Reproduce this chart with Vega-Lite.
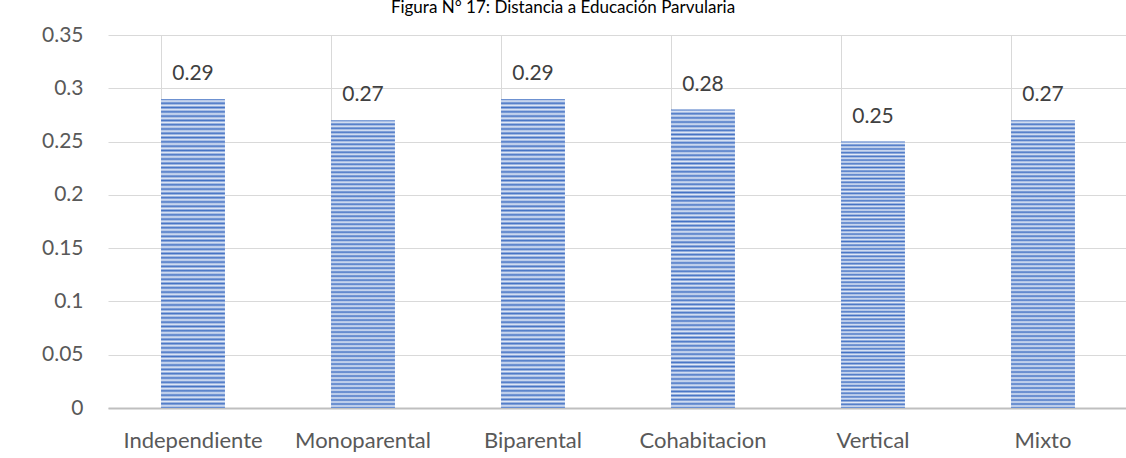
{
  "$schema": "https://vega.github.io/schema/vega-lite/v6.json",
  "autosize": "none",
  "width": 1020,
  "height": 373,
  "padding": {"left": 108, "top": 35, "right": 0, "bottom": 50},
  "background": "white",
  "title": {
    "text": "Figura N° 17: Distancia a Educación Parvularia",
    "font": "Lato",
    "fontSize": 17,
    "fontWeight": "normal",
    "color": "#000000",
    "anchor": "middle",
    "frame": "group",
    "baseline": "alphabetic",
    "offset": -6,
    "dx": -55
  },
  "data": {
    "values": [
      {"tipo": "Independiente", "valor": 0.29},
      {"tipo": "Monoparental", "valor": 0.27},
      {"tipo": "Biparental", "valor": 0.29},
      {"tipo": "Cohabitacion", "valor": 0.28},
      {"tipo": "Vertical", "valor": 0.25},
      {"tipo": "Mixto", "valor": 0.27}
    ]
  },
  "encoding": {
    "x": {
      "field": "tipo",
      "type": "nominal",
      "sort": null,
      "title": null,
      "scale": {"paddingInner": 0.624, "paddingOuter": 0.312},
      "axis": {
        "bandPosition": 0,
        "grid": true,
        "gridColor": "#D9D9D9",
        "gridWidth": 1,
        "ticks": false,
        "domainColor": "#BFBFBF",
        "domainWidth": 2,
        "labelAngle": 0,
        "labelFont": "Lato",
        "labelFontSize": 22,
        "labelColor": "#595959",
        "labelPadding": 22,
        "labelBaseline": "top"
      }
    },
    "y": {
      "field": "valor",
      "type": "quantitative",
      "title": null,
      "scale": {"domain": [0, 0.35], "nice": false},
      "axis": {
        "values": [0, 0.05, 0.1, 0.15, 0.2, 0.25, 0.3, 0.35],
        "format": "~g",
        "grid": true,
        "gridColor": "#D9D9D9",
        "gridWidth": 1,
        "ticks": false,
        "domain": false,
        "labelFont": "Lato",
        "labelFontSize": 21,
        "labelColor": "#595959",
        "labelPadding": 25
      }
    }
  },
  "layer": [
    {
      "mark": {
        "type": "bar",
        "color": {
          "gradient": "linear",
          "x1": 0, "y1": 0, "x2": 0, "y2": 1,
          "stops": [
            {"offset": 0, "color": "#4472C4"},
            {"offset": 0.00694, "color": "#E4EBF7"},
            {"offset": 0.01389, "color": "#4472C4"},
            {"offset": 0.02083, "color": "#E4EBF7"},
            {"offset": 0.02778, "color": "#4472C4"},
            {"offset": 0.03472, "color": "#E4EBF7"},
            {"offset": 0.04167, "color": "#4472C4"},
            {"offset": 0.04861, "color": "#E4EBF7"},
            {"offset": 0.05556, "color": "#4472C4"},
            {"offset": 0.0625, "color": "#E4EBF7"},
            {"offset": 0.06944, "color": "#4472C4"},
            {"offset": 0.07639, "color": "#E4EBF7"},
            {"offset": 0.08333, "color": "#4472C4"},
            {"offset": 0.09028, "color": "#E4EBF7"},
            {"offset": 0.09722, "color": "#4472C4"},
            {"offset": 0.10417, "color": "#E4EBF7"},
            {"offset": 0.11111, "color": "#4472C4"},
            {"offset": 0.11806, "color": "#E4EBF7"},
            {"offset": 0.125, "color": "#4472C4"},
            {"offset": 0.13194, "color": "#E4EBF7"},
            {"offset": 0.13889, "color": "#4472C4"},
            {"offset": 0.14583, "color": "#E4EBF7"},
            {"offset": 0.15278, "color": "#4472C4"},
            {"offset": 0.15972, "color": "#E4EBF7"},
            {"offset": 0.16667, "color": "#4472C4"},
            {"offset": 0.17361, "color": "#E4EBF7"},
            {"offset": 0.18056, "color": "#4472C4"},
            {"offset": 0.1875, "color": "#E4EBF7"},
            {"offset": 0.19444, "color": "#4472C4"},
            {"offset": 0.20139, "color": "#E4EBF7"},
            {"offset": 0.20833, "color": "#4472C4"},
            {"offset": 0.21528, "color": "#E4EBF7"},
            {"offset": 0.22222, "color": "#4472C4"},
            {"offset": 0.22917, "color": "#E4EBF7"},
            {"offset": 0.23611, "color": "#4472C4"},
            {"offset": 0.24306, "color": "#E4EBF7"},
            {"offset": 0.25, "color": "#4472C4"},
            {"offset": 0.25694, "color": "#E4EBF7"},
            {"offset": 0.26389, "color": "#4472C4"},
            {"offset": 0.27083, "color": "#E4EBF7"},
            {"offset": 0.27778, "color": "#4472C4"},
            {"offset": 0.28472, "color": "#E4EBF7"},
            {"offset": 0.29167, "color": "#4472C4"},
            {"offset": 0.29861, "color": "#E4EBF7"},
            {"offset": 0.30556, "color": "#4472C4"},
            {"offset": 0.3125, "color": "#E4EBF7"},
            {"offset": 0.31944, "color": "#4472C4"},
            {"offset": 0.32639, "color": "#E4EBF7"},
            {"offset": 0.33333, "color": "#4472C4"},
            {"offset": 0.34028, "color": "#E4EBF7"},
            {"offset": 0.34722, "color": "#4472C4"},
            {"offset": 0.35417, "color": "#E4EBF7"},
            {"offset": 0.36111, "color": "#4472C4"},
            {"offset": 0.36806, "color": "#E4EBF7"},
            {"offset": 0.375, "color": "#4472C4"},
            {"offset": 0.38194, "color": "#E4EBF7"},
            {"offset": 0.38889, "color": "#4472C4"},
            {"offset": 0.39583, "color": "#E4EBF7"},
            {"offset": 0.40278, "color": "#4472C4"},
            {"offset": 0.40972, "color": "#E4EBF7"},
            {"offset": 0.41667, "color": "#4472C4"},
            {"offset": 0.42361, "color": "#E4EBF7"},
            {"offset": 0.43056, "color": "#4472C4"},
            {"offset": 0.4375, "color": "#E4EBF7"},
            {"offset": 0.44444, "color": "#4472C4"},
            {"offset": 0.45139, "color": "#E4EBF7"},
            {"offset": 0.45833, "color": "#4472C4"},
            {"offset": 0.46528, "color": "#E4EBF7"},
            {"offset": 0.47222, "color": "#4472C4"},
            {"offset": 0.47917, "color": "#E4EBF7"},
            {"offset": 0.48611, "color": "#4472C4"},
            {"offset": 0.49306, "color": "#E4EBF7"},
            {"offset": 0.5, "color": "#4472C4"},
            {"offset": 0.50694, "color": "#E4EBF7"},
            {"offset": 0.51389, "color": "#4472C4"},
            {"offset": 0.52083, "color": "#E4EBF7"},
            {"offset": 0.52778, "color": "#4472C4"},
            {"offset": 0.53472, "color": "#E4EBF7"},
            {"offset": 0.54167, "color": "#4472C4"},
            {"offset": 0.54861, "color": "#E4EBF7"},
            {"offset": 0.55556, "color": "#4472C4"},
            {"offset": 0.5625, "color": "#E4EBF7"},
            {"offset": 0.56944, "color": "#4472C4"},
            {"offset": 0.57639, "color": "#E4EBF7"},
            {"offset": 0.58333, "color": "#4472C4"},
            {"offset": 0.59028, "color": "#E4EBF7"},
            {"offset": 0.59722, "color": "#4472C4"},
            {"offset": 0.60417, "color": "#E4EBF7"},
            {"offset": 0.61111, "color": "#4472C4"},
            {"offset": 0.61806, "color": "#E4EBF7"},
            {"offset": 0.625, "color": "#4472C4"},
            {"offset": 0.63194, "color": "#E4EBF7"},
            {"offset": 0.63889, "color": "#4472C4"},
            {"offset": 0.64583, "color": "#E4EBF7"},
            {"offset": 0.65278, "color": "#4472C4"},
            {"offset": 0.65972, "color": "#E4EBF7"},
            {"offset": 0.66667, "color": "#4472C4"},
            {"offset": 0.67361, "color": "#E4EBF7"},
            {"offset": 0.68056, "color": "#4472C4"},
            {"offset": 0.6875, "color": "#E4EBF7"},
            {"offset": 0.69444, "color": "#4472C4"},
            {"offset": 0.70139, "color": "#E4EBF7"},
            {"offset": 0.70833, "color": "#4472C4"},
            {"offset": 0.71528, "color": "#E4EBF7"},
            {"offset": 0.72222, "color": "#4472C4"},
            {"offset": 0.72917, "color": "#E4EBF7"},
            {"offset": 0.73611, "color": "#4472C4"},
            {"offset": 0.74306, "color": "#E4EBF7"},
            {"offset": 0.75, "color": "#4472C4"},
            {"offset": 0.75694, "color": "#E4EBF7"},
            {"offset": 0.76389, "color": "#4472C4"},
            {"offset": 0.77083, "color": "#E4EBF7"},
            {"offset": 0.77778, "color": "#4472C4"},
            {"offset": 0.78472, "color": "#E4EBF7"},
            {"offset": 0.79167, "color": "#4472C4"},
            {"offset": 0.79861, "color": "#E4EBF7"},
            {"offset": 0.80556, "color": "#4472C4"},
            {"offset": 0.8125, "color": "#E4EBF7"},
            {"offset": 0.81944, "color": "#4472C4"},
            {"offset": 0.82639, "color": "#E4EBF7"},
            {"offset": 0.83333, "color": "#4472C4"},
            {"offset": 0.84028, "color": "#E4EBF7"},
            {"offset": 0.84722, "color": "#4472C4"},
            {"offset": 0.85417, "color": "#E4EBF7"},
            {"offset": 0.86111, "color": "#4472C4"},
            {"offset": 0.86806, "color": "#E4EBF7"},
            {"offset": 0.875, "color": "#4472C4"},
            {"offset": 0.88194, "color": "#E4EBF7"},
            {"offset": 0.88889, "color": "#4472C4"},
            {"offset": 0.89583, "color": "#E4EBF7"},
            {"offset": 0.90278, "color": "#4472C4"},
            {"offset": 0.90972, "color": "#E4EBF7"},
            {"offset": 0.91667, "color": "#4472C4"},
            {"offset": 0.92361, "color": "#E4EBF7"},
            {"offset": 0.93056, "color": "#4472C4"},
            {"offset": 0.9375, "color": "#E4EBF7"},
            {"offset": 0.94444, "color": "#4472C4"},
            {"offset": 0.95139, "color": "#E4EBF7"},
            {"offset": 0.95833, "color": "#4472C4"},
            {"offset": 0.96528, "color": "#E4EBF7"},
            {"offset": 0.97222, "color": "#4472C4"},
            {"offset": 0.97917, "color": "#E4EBF7"},
            {"offset": 0.98611, "color": "#4472C4"},
            {"offset": 0.99306, "color": "#E4EBF7"},
            {"offset": 1, "color": "#4472C4"}
          ]
        }
      }
    },
    {
      "mark": {
        "type": "text",
        "font": "Lato",
        "fontSize": 21,
        "color": "#404040",
        "baseline": "alphabetic",
        "dy": -19
      },
      "encoding": {
        "text": {"field": "valor", "type": "quantitative", "format": ".2f"}
      }
    }
  ],
  "config": {
    "view": {"stroke": null}
  }
}
